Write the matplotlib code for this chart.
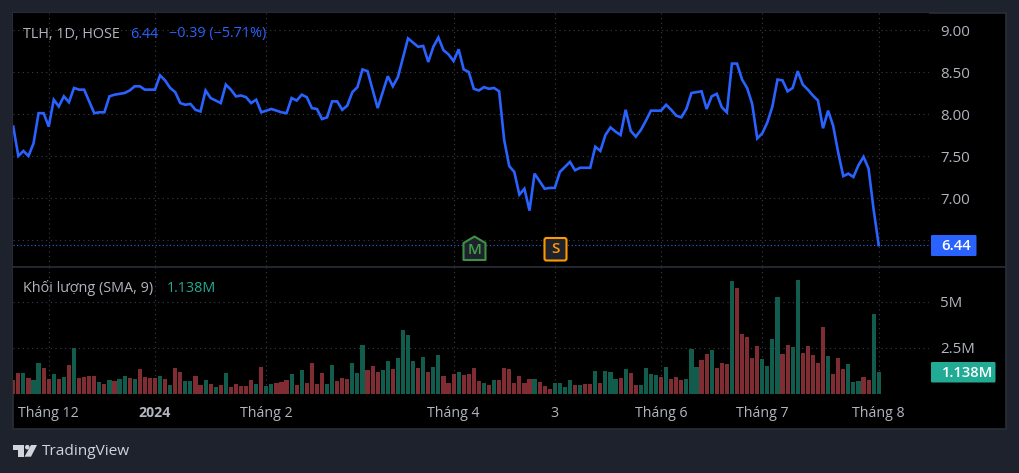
import matplotlib
matplotlib.use("Agg")
import matplotlib.pyplot as plt
from matplotlib.patches import Rectangle, Polygon, FancyBboxPatch, Circle
from matplotlib.lines import Line2D
from matplotlib.transforms import Affine2D
import numpy as np

W, H = 1019, 473
price = [7.85,7.50,7.56,7.50,7.65,8.01,8.01,7.85,8.17,8.09,8.21,8.14,8.31,8.29,8.29,8.15,8.01,8.02,8.02,8.21,
8.23,8.24,8.25,8.28,8.33,8.33,8.29,8.29,8.29,8.46,8.40,8.31,8.26,8.13,8.11,8.12,8.05,8.03,8.28,8.19,
8.16,8.13,8.35,8.29,8.21,8.22,8.20,8.13,8.17,8.02,8.04,8.06,8.04,8.02,8.01,8.19,8.16,8.23,8.20,8.07,
8.06,7.94,7.96,8.15,8.15,8.05,8.10,8.26,8.32,8.53,8.51,8.29,8.07,8.26,8.45,8.33,8.44,8.67,8.90,8.85,
8.80,8.81,8.62,8.80,8.91,8.76,8.71,8.63,8.77,8.53,8.50,8.30,8.28,8.32,8.30,8.31,8.27,7.69,7.38,7.31,
7.04,7.11,6.85,7.29,7.20,7.11,7.12,7.12,7.31,7.37,7.43,7.33,7.36,7.36,7.36,7.61,7.56,7.75,7.84,7.79,
7.75,8.05,7.80,7.73,7.81,7.92,8.04,8.04,8.04,8.11,8.05,7.98,7.96,8.06,8.25,8.26,8.27,8.06,8.21,8.24,
8.08,8.02,8.60,8.60,8.41,8.31,8.12,7.71,7.77,7.90,8.09,8.41,8.40,8.27,8.31,8.51,8.35,8.29,8.22,8.16,
7.83,8.04,7.86,7.54,7.26,7.29,7.25,7.39,7.49,7.35,6.86,6.44]
volume = [.74,1.12,1.12,.85,.74,1.67,1.39,.80,1.07,.80,.91,1.56,2.48,.87,.91,.96,.96,.63,.53,.74,
.69,.80,.96,.85,.80,1.34,.91,.85,.85,.96,.80,.47,1.39,1.18,.69,.69,.96,.47,.74,.53,
.36,.47,1.12,.36,.53,.42,.42,.74,.53,1.45,.42,.53,.58,.63,.74,1.07,.47,1.29,.58,1.67,
.53,1.12,.53,1.56,.69,
.85,.80,1.67,1.12,2.64,1.29,1.50,1.18,1.29,1.78,1.34,1.94,3.46,3.19,1.78,1.39,1.99,1.18,1.45,2.10,
.96,.58,1.07,1.18,1.01,1.07,1.39,.69,.58,.47,.74,.74,1.39,1.34,.58,.96,.58,.80,.80,.63,
.42,.25,.58,.58,.36,.74,.47,.47,.53,.53,1.23,.58,1.23,1.18,.80,.85,1.34,1.12,.47,.47,
1.39,1.07,1.01,.91,1.45,.80,.91,
.74,.80,2.43,1.45,1.83,2.16,2.37,1.39,1.67,1.61,6.12,5.74,3.24,3.08,1.94,2.59,1.88,1.50,2.97,5.25,
2.16,2.64,2.54,6.18,2.21,2.59,2.10,1.67,3.62,2.05,1.07,1.94,1.34,1.61,.63,.69,.91,.74,4.33,1.18]
direction = list("RRGRGGRRGR" "GRGRRRRGRG" "RGGRGRRRRG" "RGRRGGRRGR" "GRGRRRRRGR" "GGRRRGRGRR" "RRGGR"
                 "RRGGGRRRGG" "RGGGGRGRGG" "RRRGRRRRGR" "GRRRRRRRGR" "RRGGGGRGRR" "GRGGGRGRRG" "GGGRGRR"
                 "RGGGRRGRRR" "GRRRRRGGGG" "RRGGRRRRRG" "RRRGGGRRGG")
price_ticks = [9.0, 8.5, 8.0, 7.5, 7.0, 6.5]
price_tick_labels = ["9.00", "8.50", "8.00", "7.50", "7.00", "6.50"]
volume_ticks = [2.5, 5.0]
volume_tick_labels = ["2.5M", "5M"]
date_ticks = [7, 28, 50, 87, 107, 128, 148, 171]
date_labels = ["Tháng 12", "2024", "Tháng 2", "Tháng 4", "3", "Tháng 6", "Tháng 7", "Tháng 8"]

BG = "#1e222d"; BORDER = "#2a2e39"; GRID = "#3a3e48"; TXT = "#b2b5be"
BLUE = "#2962ff"; UP = "#125c4e"; DOWN = "#7f2c33"; TEAL = "#22ab94"
plt.rcParams["font.family"] = ["Open Sans", "DejaVu Sans"]

fig = plt.figure(figsize=(W/100, H/100), dpi=100, facecolor=BG)
PX = Affine2D().scale(1, -1).translate(0, H)   # reference pixels, origin at top-left
def ax_px(l, t, r, b):
    return fig.add_axes([l/W, 1-b/H, (r-l)/W, (b-t)/H])

fig.add_artist(Rectangle((12.5, 12.5), 993.5, 416, transform=PX, facecolor="black",
                         edgecolor=BORDER, linewidth=1.2, zorder=-1))
X0, DX, L, R = 13.27, 5.061, 13, 929
xlim = ((L-X0)/DX, (R-X0)/DX)
xs = np.arange(len(price))
grid_kw = dict(color=GRID, linewidth=0.8, linestyle=(0, (1, 3.2)))

axp = ax_px(L, 13, R, 266)
axv = ax_px(L, 267, R, 394)
for a in (axp, axv):
    a.set_facecolor("black")
    a.set_xlim(*xlim)
    a.set_xticks(date_ticks)
    a.grid(True, **grid_kw)
    a.set_axisbelow(True)
    for s in a.spines.values():
        s.set_visible(False)
    a.yaxis.tick_right()

axp.set_ylim(9 - (266-30.0)/84, 9 + 17.0/84)
axp.set_yticks(price_ticks, price_tick_labels)
axp.tick_params(axis="y", length=0, pad=8.2, labelsize=10.8, labelcolor=TXT)
axp.tick_params(axis="x", length=0, labelbottom=False)
axp.plot(xs, price, color=BLUE, linewidth=1.9, solid_joinstyle="miter", zorder=3)
axp.axhline(price[-1], color=BLUE, linewidth=0.8, linestyle=(0, (1, 2.2)), zorder=2)

axv.set_ylim(-0.02, 127/18.4 - 0.02)
axv.set_yticks(volume_ticks, volume_tick_labels)
axv.tick_params(axis="y", length=0, pad=8.2, labelsize=10.8, labelcolor=TXT)
axv.set_xticks(date_ticks, date_labels)
axv.tick_params(axis="x", length=0, pad=8.8, labelsize=10.2, labelcolor=TXT)
axv.get_xticklabels()[1].set_fontweight("bold")
axv.bar(xs, volume, width=0.82, color=[UP if d == "G" else DOWN for d in direction], zorder=3)

# panel separator
fig.add_artist(Line2D([13, 1005], [266.5, 266.5], transform=PX, color=BORDER, linewidth=1.2, zorder=2))

# legends
def t(x, y, s, **kw):
    kw.setdefault("va", "center"); kw.setdefault("ha", "left"); kw.setdefault("fontsize", 10.4)
    kw.setdefault("zorder", 6)
    fig.text(x/W, 1-y/H, s, **kw)
t(23, 34, "TLH, 1D, HOSE", color=TXT)
t(130.5, 34, "6.44", color=BLUE)
t(169, 34, "−0.39 (−5.71%)", color=BLUE)
t(23, 288, "Khối lượng (SMA, 9)", color=TXT)
t(167, 288, "1.138M", color=TEAL)

# last-value boxes
def tag(l, t_, r, b, c):
    fig.add_artist(FancyBboxPatch((l, t_), r-l, b-t_, transform=PX,
        boxstyle="round,pad=0,rounding_size=1.2", facecolor=c, edgecolor="none", zorder=5))
tag(931, 235, 976.5, 256, BLUE)
t(941, 245.5, "6.44", color="white", fontsize=10.8, fontweight="semibold")
tag(931, 362, 995.5, 382.5, TEAL)
t(941.5, 372.5, "1.138M", color="white", fontsize=10.6, fontweight="semibold")

# event markers
def poly(pts, **kw):
    fig.add_artist(Polygon(pts, closed=True, transform=PX, zorder=5, **kw))
poly([(463.5, 243), (474.5, 236.5), (485.5, 243), (485.5, 260), (463.5, 260)], facecolor=BG,
     edgecolor="#3f9142", linewidth=1.5, joinstyle="round")
t(474.5, 249.5, "M", color="#43a047", ha="center", fontsize=11, fontweight="semibold")
fig.add_artist(FancyBboxPatch((544.5, 238), 22, 22.5, transform=PX, boxstyle="round,pad=0,rounding_size=2",
    facecolor=BG, edgecolor="#ff9800", linewidth=1.5, zorder=5))
t(555.5, 249, "S", color="#ff9800", ha="center", fontsize=11, fontweight="semibold")

# TradingView logo
LOGO = "#d1d4dc"
poly([(12.5, 445), (24, 445), (24, 456.7), (18, 456.7), (18, 449.5), (12.5, 449.5)], facecolor=LOGO, edgecolor="none")
fig.add_artist(Circle((27.3, 447.2), 2.3, transform=PX, facecolor=LOGO, edgecolor="none", zorder=5))
poly([(31, 445), (37, 445), (31, 456.7), (24.5, 456.7)], facecolor=LOGO, edgecolor="none")
t(42, 451, "TradingView", color=LOGO, fontsize=11.1)

fig.savefig("out.png", dpi=100, facecolor=BG)
